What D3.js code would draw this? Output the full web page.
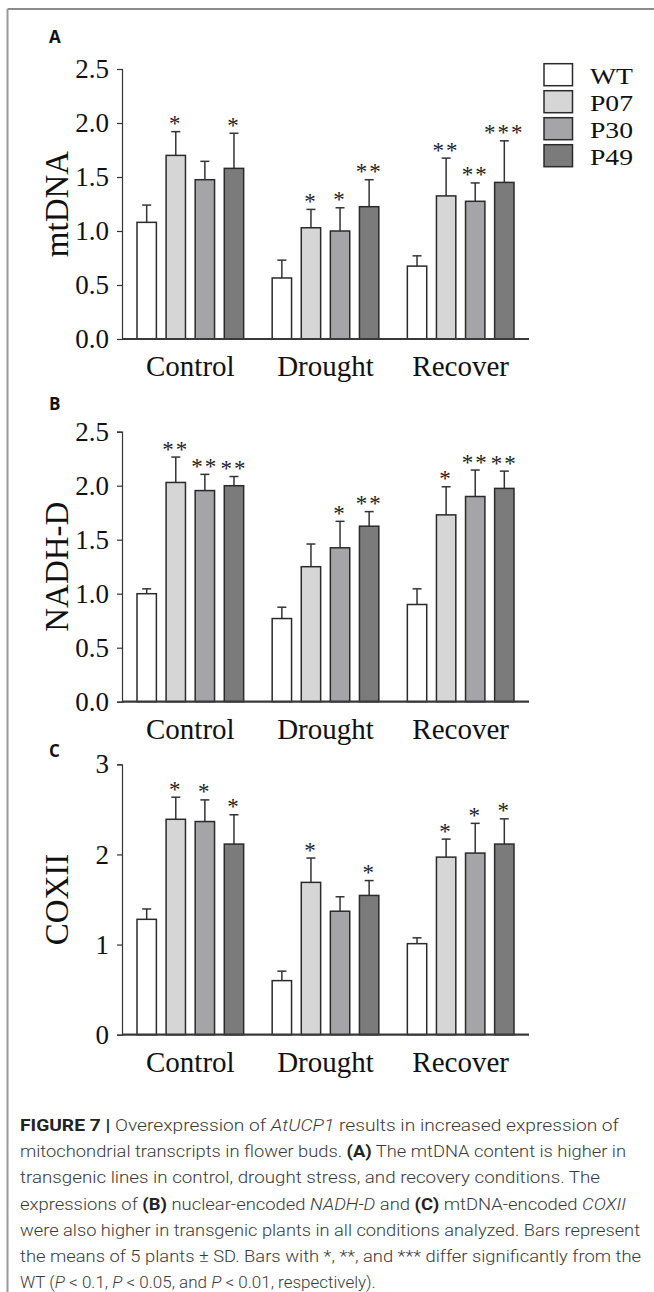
<!DOCTYPE html>
<html><head><meta charset="utf-8">
<script src="https://cdn.jsdelivr.net/npm/d3@7"></script>
<style>body{margin:0;background:#fff}svg{display:block}</style>
</head><body>
<script>
// ---- data ----
const conditions = ["Control", "Drought", "Recover"];
const lines = ["WT", "P07", "P30", "P49"];

// Panel A: mtDNA (rows = conditions, cols = lines)
const mtdnaMean = [[1.08, 1.70, 1.475, 1.58], [0.565, 1.03, 1.00, 1.225], [0.675, 1.325, 1.275, 1.45]];
const mtdnaSD   = [[0.16, 0.22, 0.17, 0.325], [0.165, 0.17, 0.215, 0.25], [0.095, 0.35, 0.17, 0.385]];
const mtdnaSig  = [["", "*", "", "*"], ["", "*", "*", "**"], ["", "**", "**", "***"]];

// Panel B: NADH-D
const nadhMean = [[1.00, 2.03, 1.955, 2.00], [0.77, 1.25, 1.425, 1.625], [0.90, 1.73, 1.90, 1.975]];
const nadhSD   = [[0.045, 0.235, 0.15, 0.085], [0.105, 0.21, 0.245, 0.135], [0.145, 0.26, 0.245, 0.16]];
const nadhSig  = [["", "**", "**", "**"], ["", "", "*", "**"], ["", "*", "**", "**"]];

// Panel C: COXII
const coxMean = [[1.28, 2.39, 2.365, 2.115], [0.60, 1.69, 1.37, 1.545], [1.01, 1.97, 2.015, 2.115]];
const coxSD   = [[0.115, 0.245, 0.24, 0.325], [0.105, 0.27, 0.16, 0.165], [0.065, 0.20, 0.33, 0.28]];
const coxSig  = [["", "*", "*", "*"], ["", "*", "", "*"], ["", "*", "*", "*"]];

const ticksAB = [0, 0.5, 1.0, 1.5, 2.0, 2.5];
const tickLabelsAB = ["0.0", "0.5", "1.0", "1.5", "2.0", "2.5"];
const ticksC = [0, 1, 2, 3];
const tickLabelsC = ["0", "1", "2", "3"];

const captionLines = [
  [["b", "FIGURE 7 |"], ["n", " Overexpression of "], ["i", "AtUCP1"], ["n", " results in increased expression of"]],
  [["n", "mitochondrial transcripts in flower buds. "], ["b", "(A)"], ["n", " The mtDNA content is higher in"]],
  [["n", "transgenic lines in control, drought stress, and recovery conditions. The"]],
  [["n", "expressions of "], ["b", "(B)"], ["n", " nuclear-encoded "], ["i", "NADH-D"], ["n", " and "], ["b", "(C)"], ["n", " mtDNA-encoded "], ["i", "COXII"]],
  [["n", "were also higher in transgenic plants in all conditions analyzed. Bars represent"]],
  [["n", "the means of 5 plants \u00b1 SD. Bars with *, **, and *** differ significantly from the"]],
  [["n", "WT ("], ["i", "P"], ["n", " < 0.1, "], ["i", "P"], ["n", " < 0.05, and "], ["i", "P"], ["n", " < 0.01, respectively)."]]
];

// ---- style / layout ----
const fills = ["#ffffff", "#d6d6d6", "#a4a4a9", "#7b7b7b"];
const serif = "'Liberation Serif','Times New Roman',serif";
const W = 654, H = 1292;

const panels = [
  { letter: "A", title: "mtDNA", mean: mtdnaMean, sd: mtdnaSD, sig: mtdnaSig, max: 2.5, ticks: ticksAB, labels: tickLabelsAB, y0: 339, y1: 69, letterY: 43 },
  { letter: "B", title: "NADH-D", mean: nadhMean, sd: nadhSD, sig: nadhSig, max: 2.5, ticks: ticksAB, labels: tickLabelsAB, y0: 701.7, y1: 431.7, letterY: 410 },
  { letter: "C", title: "COXII", mean: coxMean, sd: coxSD, sig: coxSig, max: 3, ticks: ticksC, labels: tickLabelsC, y0: 1034.7, y1: 764.3, letterY: 757 }
];

const svg = d3.select("body").append("svg").attr("width", W).attr("height", H);
svg.append("rect").attr("width", W).attr("height", H).attr("fill", "#fff");

// frame
svg.append("line").attr("x1", 7.5).attr("x2", W).attr("y1", 9).attr("y2", 9).attr("stroke", "#666").attr("stroke-width", 1.5);
svg.append("line").attr("x1", 7.5).attr("x2", 7.5).attr("y1", 9).attr("y2", H).attr("stroke", "#999").attr("stroke-width", 2);

const axX0 = 122, axX1 = 529;
const x0 = d3.scaleBand().domain(conditions).range([axX0, axX1]).paddingInner(0.211).paddingOuter(0.111);
const x1 = d3.scaleBand().domain(lines).range([0, x0.bandwidth()]).paddingInner(0.334).paddingOuter(0);
const color = d3.scaleOrdinal().domain(lines).range(fills);

panels.forEach(p => {
  const y = d3.scaleLinear().domain([0, p.max]).range([p.y0, p.y1]);
  const g = svg.append("g");

  // panel letter
  g.append("text").attr("x", 49).attr("y", p.letterY).text(p.letter)
    .attr("font-family", "'Open Sans','DejaVu Sans',sans-serif").attr("font-weight", "bold")
    .attr("font-size", 17).attr("fill", "#111");

  // y title
  g.append("text").attr("transform", `translate(68,${(p.y0 + p.y1) / 2}) rotate(-90)`)
    .attr("text-anchor", "middle").attr("font-family", serif).attr("font-size", 33)
    .attr("fill", "#111").text(p.title);

  // y axis
  const yAxis = d3.axisLeft(y).tickValues(p.ticks).tickFormat((d, i) => p.labels[i]).tickSize(5).tickPadding(8);
  const ya = g.append("g").attr("transform", `translate(${axX0},0)`).call(yAxis);
  ya.select(".domain").attr("stroke", "#333").attr("stroke-width", 1.2);
  ya.selectAll(".tick line").attr("stroke", "#333").attr("stroke-width", 1.2);
  ya.selectAll(".tick text").attr("font-family", serif).attr("font-size", 27).attr("fill", "#111");

  // bars
  conditions.forEach((c, ci) => {
    const gg = g.append("g").attr("transform", `translate(${x0(c)},0)`);
    lines.forEach((l, li) => {
      const m = p.mean[ci][li], s = p.sd[ci][li];
      const bx = x1(l), bw = x1.bandwidth();
      const cx = bx + bw / 2;
      const top = y(m + s);
      // error bar (upper only)
      gg.append("line").attr("x1", cx).attr("x2", cx).attr("y1", y(m)).attr("y2", top)
        .attr("stroke", "#333").attr("stroke-width", 1.5);
      gg.append("line").attr("x1", cx - 4.5).attr("x2", cx + 4.5).attr("y1", top).attr("y2", top)
        .attr("stroke", "#333").attr("stroke-width", 1.5);
      gg.append("rect").attr("x", bx).attr("y", y(m)).attr("width", bw).attr("height", y(0) - y(m))
        .attr("fill", color(l)).attr("stroke", "#2a2a2a").attr("stroke-width", 1.5);
      if (p.sig[ci][li]) {
        gg.append("text").attr("x", cx).attr("y", top - 0.5).attr("text-anchor", "middle")
          .attr("font-family", serif).attr("font-size", 23).attr("letter-spacing", 2)
          .attr("fill", "#222").text(p.sig[ci][li]);
      }
    });
    // category label
    g.append("text").attr("x", x0(c) + x0.bandwidth() / 2).attr("y", p.y0 + 37)
      .attr("text-anchor", "middle").attr("font-family", serif).attr("font-size", 29)
      .attr("fill", "#111").text(c);
  });

  // x axis line
  g.append("line").attr("x1", axX0).attr("x2", axX1).attr("y1", y(0)).attr("y2", y(0))
    .attr("stroke", "#3a3a3a").attr("stroke-width", 2.2);
});

// legend
const leg = svg.append("g");
lines.forEach((l, i) => {
  const ly = 63.7 + i * 27;
  leg.append("rect").attr("x", 544).attr("y", ly).attr("width", 28.5).attr("height", 22)
    .attr("fill", color(l)).attr("stroke", "#2a2a2a").attr("stroke-width", 1.5);
  leg.append("text").attr("x", 590).attr("y", ly + 20.5).attr("font-family", serif)
    .attr("font-size", 24).attr("textLength", 43).attr("lengthAdjust", "spacingAndGlyphs")
    .attr("fill", "#111").text(l);
});

// caption
const capEnds = [619, 626, 600, 626, 640, 641, null];
captionLines.forEach((ln, i) => {
  const t = svg.append("text").attr("x", 20).attr("y", 1131 + i * 26.2)
    .attr("font-family", "Roboto,'Open Sans',sans-serif").attr("font-size", 17)
    .attr("font-weight", 300).attr("fill", "#3a3a3a");
  if (capEnds[i]) t.attr("textLength", capEnds[i] - 20).attr("lengthAdjust", "spacingAndGlyphs");
  ln.forEach(([k, s]) => {
    const ts = t.append("tspan").text(s);
    if (k === "b") ts.attr("font-weight", 700).attr("fill", "#222");
    if (k === "i") ts.attr("font-style", "italic");
  });
});
</script>
</body></html>
